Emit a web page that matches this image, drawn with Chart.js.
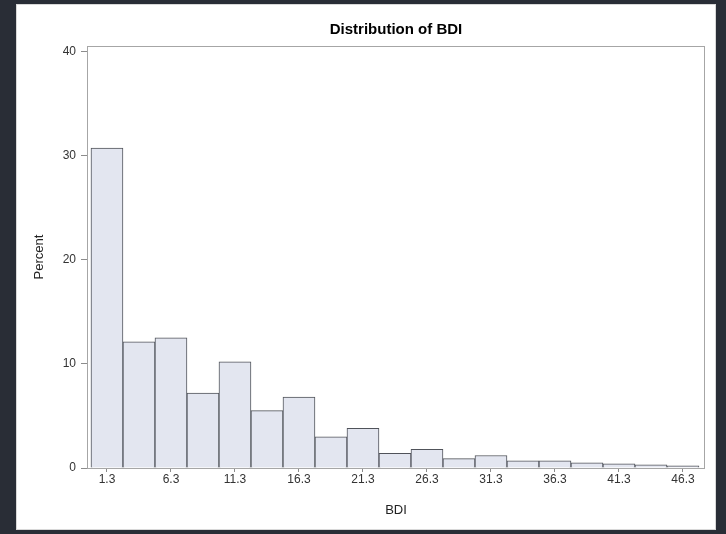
<!DOCTYPE html>
<html>
<head>
<meta charset="utf-8">
<script src="https://cdn.jsdelivr.net/npm/chart.js@4"></script>
<style>
  html, body { margin: 0; padding: 0; }
  body { width: 726px; height: 534px; background: #292d36; position: relative; overflow: hidden; }
  #panel { position: absolute; left: 16px; top: 4px; width: 700px; height: 526px; background: #fff; border: 1px solid #d8d8d8; box-sizing: border-box; }
  #chart { position: absolute; left: 16px; top: 4px; }
</style>
</head>
<body>
<div id="panel"></div>
<canvas id="chart" width="700" height="526"></canvas>
<script>
// bin midpoints (width 2.5) and percent in each bin
const binMids = [1.3, 3.8, 6.3, 8.8, 11.3, 13.8, 16.3, 18.8, 21.3, 23.8, 26.3, 28.8, 31.3, 33.8, 36.3, 38.8, 41.3, 43.8, 46.3];
const percents = [30.7, 12.1, 12.5, 7.2, 10.2, 5.5, 6.8, 3.0, 3.8, 1.4, 1.8, 0.9, 1.2, 0.7, 0.7, 0.5, 0.4, 0.3, 0.2];
const xTicks = [1.3, 6.3, 11.3, 16.3, 21.3, 26.3, 31.3, 36.3, 41.3, 46.3];
const yTicks = [0, 10, 20, 30, 40];

const points = binMids.map((m, i) => ({ x: m, y: percents[i] }));

// frame round the plot area
const framePlugin = {
    id: 'frame',
    afterDraw(chart) {
        const a = chart.chartArea;
        const ctx = chart.ctx;
        ctx.save();
        ctx.strokeStyle = '#a6a6a6';
        ctx.lineWidth = 1;
        ctx.strokeRect(Math.round(a.left) + 0.5, Math.round(a.top) + 0.5,
            Math.round(a.right - a.left) - 1, Math.round(a.bottom - a.top));
        ctx.restore();
    }
};

const tickFont = { family: "'Liberation Sans', Arial, sans-serif", size: 12 };

new Chart(document.getElementById('chart'), {
    type: 'bar',
    data: {
        datasets: [{
            data: points,
            backgroundColor: '#e3e6f0',
            borderColor: '#50535a',
            borderWidth: 1,
            barPercentage: 1,
            categoryPercentage: 1
        }]
    },
    options: {
        responsive: false,
        animation: false,
        layout: { padding: { left: 0, right: 11, top: 0, bottom: 0 } },
        plugins: {
            legend: { display: false },
            tooltip: { enabled: false },
            title: {
                display: true,
                fullSize: false,
                text: 'Distribution of BDI',
                color: '#000',
                font: { family: "'Liberation Sans', Arial, sans-serif", size: 15, weight: 'bold' },
                padding: { top: 17, bottom: 7 }
            }
        },
        scales: {
            x: {
                type: 'linear',
                offset: false,
                min: -0.26,
                max: 48.02,
                afterBuildTicks(scale) { scale.ticks = xTicks.map(v => ({ value: v })); },
                afterFit(scale) { scale.height = 62; },
                ticks: {
                    color: '#333',
                    font: tickFont,
                    padding: 0,
                    maxRotation: 0,
                    autoSkip: false,
                    callback: v => v.toFixed(1)
                },
                grid: { offset: false, drawOnChartArea: false, drawTicks: true, tickLength: 4, color: '#8c8c8c' },
                border: { display: false },
                title: {
                    display: true,
                    text: 'BDI',
                    color: '#222',
                    font: { family: "'Liberation Sans', Arial, sans-serif", size: 13 },
                    padding: { top: 0, bottom: 12 }
                }
            },
            y: {
                min: 0,
                max: 40.5,
                afterBuildTicks(scale) { scale.ticks = yTicks.map(v => ({ value: v })); },
                afterFit(scale) { scale.width = 71; },
                ticks: { color: '#333', font: tickFont, padding: 5 },
                grid: { offset: false, drawOnChartArea: false, drawTicks: true, tickLength: 6, color: '#8c8c8c' },
                border: { display: false },
                title: {
                    display: true,
                    text: 'Percent',
                    color: '#222',
                    font: { family: "'Liberation Sans', Arial, sans-serif", size: 13 },
                    padding: { top: 16, bottom: 0 }
                }
            }
        }
    },
    plugins: [framePlugin]
});
</script>
</body>
</html>
